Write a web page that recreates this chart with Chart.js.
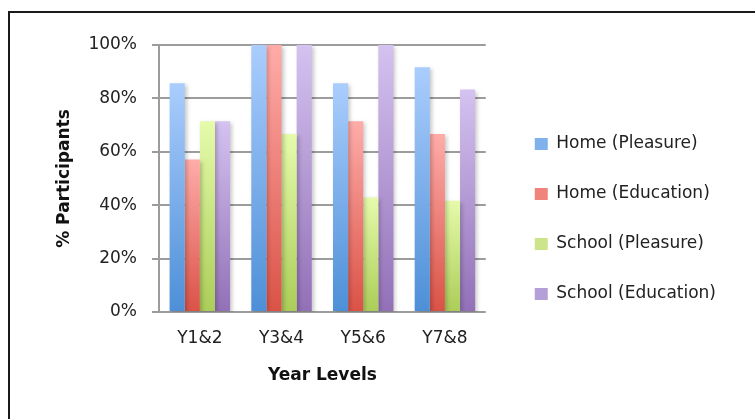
<!DOCTYPE html>
<html>
<head>
<meta charset="utf-8">
<script src="https://cdn.jsdelivr.net/npm/chart.js@4"></script>
<style>
  html, body { margin: 0; padding: 0; background: #fff; }
</style>
</head>
<body>
<canvas id="chart" width="755" height="419"></canvas>
<script>
const categories = ['Y1&2', 'Y3&4', 'Y5&6', 'Y7&8'];
const homePleasure = [85.7, 100, 85.7, 91.7];
const homeEducation = [57.1, 100, 71.4, 66.7];
const schoolPleasure = [71.4, 66.7, 42.9, 41.7];
const schoolEducation = [71.4, 100, 100, 83.3];
const seriesNames = ['Home (Pleasure)', 'Home (Education)', 'School (Pleasure)', 'School (Education)'];
const yTicks = [0, 20, 40, 60, 80, 100];

const FONT = "'DejaVu Sans', sans-serif";

// gradient per bar, light at the top, dark at the bottom
function barGradient(top, bottom) {
    return function(context) {
        const chart = context.chart;
        const area = chart.chartArea;
        if (!area || context.type !== 'data') return bottom;
        const y = chart.scales.y.getPixelForValue(context.parsed.y);
        const g = chart.ctx.createLinearGradient(0, y, 0, area.bottom);
        g.addColorStop(0, top);
        g.addColorStop(1, bottom);
        return g;
    };
}

const legendColors = ['#7fb1ec', '#f0847c', '#cde58a', '#b49fd9'];

const framePlugin = {
    id: 'frame',
    beforeDraw(chart) {
        const ctx = chart.ctx;
        ctx.save();
        ctx.strokeStyle = '#1a1a1a';
        ctx.lineWidth = 2;
        ctx.strokeRect(9, 12, 780, 440);
        ctx.restore();
    }
};

const shadowPlugin = {
    id: 'barShadow',
    beforeDatasetsDraw(chart) {
        const ctx = chart.ctx;
        ctx.save();
        ctx.shadowColor = 'rgba(0,0,0,0.22)';
        ctx.shadowBlur = 4;
        ctx.shadowOffsetX = 2;
        ctx.shadowOffsetY = 2;
    },
    afterDatasetsDraw(chart) {
        chart.ctx.restore();
    }
};

new Chart(document.getElementById('chart'), {
    type: 'bar',
    data: {
        labels: categories,
        datasets: [
            { label: seriesNames[0], data: homePleasure, backgroundColor: barGradient('#aacdfd', '#4d8fd7') },
            { label: seriesNames[1], data: homeEducation, backgroundColor: barGradient('#ffaca9', '#da5246') },
            { label: seriesNames[2], data: schoolPleasure, backgroundColor: barGradient('#e5fbab', '#abcd58') },
            { label: seriesNames[3], data: schoolEducation, backgroundColor: barGradient('#d4c2f0', '#9270b7') },
        ]
    },
    options: {
        responsive: false,
        animation: false,
        categoryPercentage: 0.74,
        barPercentage: 1.0,
        layout: { padding: { left: 54, top: 45, right: 29, bottom: 26 } },
        plugins: {
            tooltip: { enabled: false },
            legend: {
                position: 'right',
                maxWidth: 320,
                labels: {
                    font: { family: FONT, size: 17 },
                    color: '#222',
                    boxWidth: 13,
                    boxHeight: 12,
                    padding: 33,
                    generateLabels(chart) {
                        const items = Chart.defaults.plugins.legend.labels.generateLabels(chart);
                        items.forEach((it, i) => {
                            it.fillStyle = legendColors[i];
                            it.strokeStyle = legendColors[i];
                            it.lineWidth = 0;
                        });
                        return items;
                    }
                }
            }
        },
        scales: {
            x: {
                grid: { display: false, drawTicks: false },
                border: { display: false },
                ticks: { font: { family: FONT, size: 17 }, color: '#222', padding: 16 },
                title: {
                    display: true,
                    text: 'Year Levels',
                    font: { family: FONT, size: 17, weight: 'bold' },
                    color: '#111',
                    padding: { top: 0, bottom: 7 }
                },
                afterFit(scale) { scale.height = 81; }
            },
            y: {
                min: 0,
                max: 100,
                afterBuildTicks(scale) { scale.ticks = yTicks.map(v => ({ value: v })); },
                grid: { color: '#9c9c9c', lineWidth: 2, tickLength: 7 },
                border: { display: true, color: '#9c9c9c', width: 2 },
                ticks: {
                    font: { family: FONT, size: 17 },
                    color: '#222',
                    padding: 15,
                    callback: v => v + '%'
                },
                title: {
                    display: true,
                    text: '% Participants',
                    font: { family: FONT, size: 17, weight: 'bold' },
                    color: '#111',
                    padding: 0
                },
                afterFit(scale) { scale.width = 105; }
            },
            // empty axis, only keeps a gap between the plot and the legend
            gap: {
                type: 'linear',
                position: 'right',
                grid: { display: false },
                border: { display: false },
                ticks: { display: false },
                afterFit(scale) { scale.width = 16; }
            }
        }
    },
    plugins: [framePlugin, shadowPlugin]
});
</script>
</body>
</html>
